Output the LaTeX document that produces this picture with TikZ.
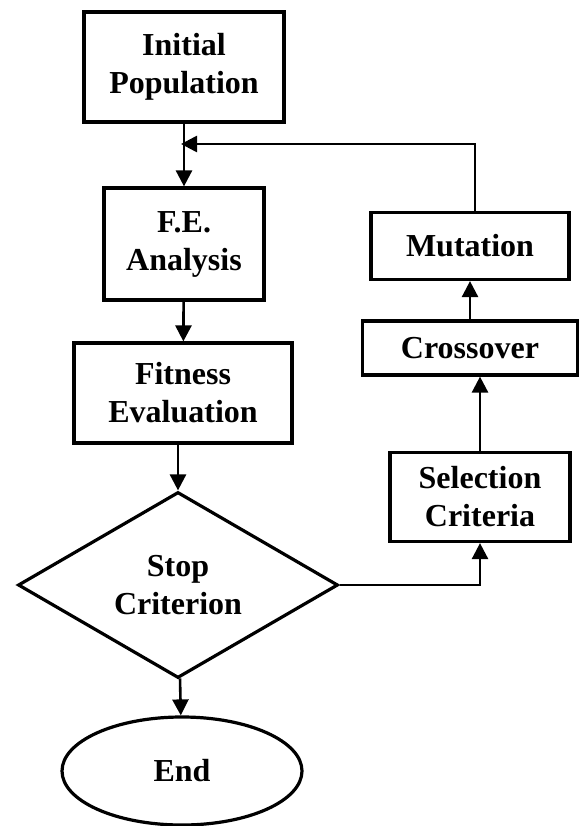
\documentclass[tikz,border=0pt]{standalone}
\usepackage{fontspec}
\setmainfont{Liberation Serif}
\usepackage{tikz}
\usetikzlibrary{shapes,positioning}
\usetikzlibrary{calc}
\usetikzlibrary{arrows.meta}
\tikzset{
	bloc/.style={draw,line width=3.2pt,inner sep=0pt,align=center,font=\fontsize{32}{38}\selectfont\bfseries},
	fleche/.style={line width=2.6pt,-{Triangle[width=16pt,length=16pt]}},
	trait/.style={line width=2.6pt}
}

\begin{document}
\begin{tikzpicture}[x=1pt,y=-1pt]
\useasboundingbox (0,0) rectangle (580,826); % Fixes the page size...

%Blocs de gauche
\node[bloc,minimum width=200pt,minimum height=110pt] (init) at (184,67) {Initial\\Population};
\node[bloc,minimum width=160pt,minimum height=112pt] (fe) at (184,244) {F.E.\\Analysis};
\node[bloc,minimum width=218pt,minimum height=100pt] (fit) at (183,393) {Fitness\\Evaluation};
\node[bloc,diamond,shape aspect=1.72,minimum width=320pt,minimum height=186pt] (stop) at (178,585) {Stop\\Criterion};
\node[bloc,ellipse,minimum width=240pt,minimum height=108pt] (end) at (182,771) {End};

%Blocs de droite
\node[bloc,minimum width=180pt,minimum height=89pt] (sel) at (480,497) {Selection\\Criteria};
\node[bloc,minimum width=215pt,minimum height=54pt] (cross) at (470,348) {Crossover};
\node[bloc,minimum width=198pt,minimum height=67pt] (mut) at (470,246) {Mutation};

\coordinate (join) at (181,144);

%Fleches
\draw[fleche] (init) -- (fe);
\draw[fleche] (fe) -- (fit);
\draw[fleche] (fit.south -| stop.north) -- (stop.north);
\draw[fleche] (stop) -- (end);
\draw[fleche] (stop.east) -| (sel.south);
\draw[fleche] (sel.north) -- (sel.north |- cross.south);
\draw[fleche] (cross) -- (mut);
\draw[fleche] ([xshift=5pt]mut.north) |- (join);

\end{tikzpicture}
\end{document}
